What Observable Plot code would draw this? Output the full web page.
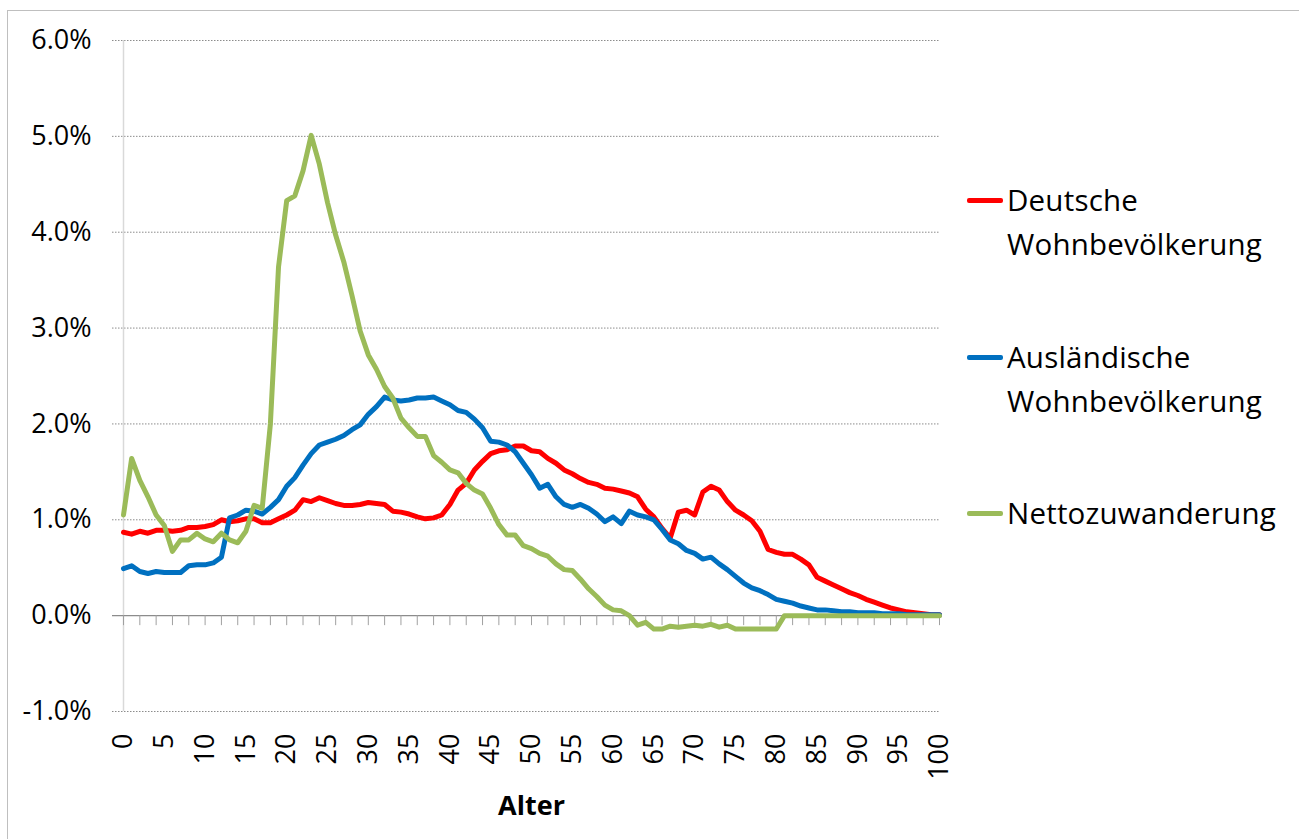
<!DOCTYPE html>
<html>
<head>
<meta charset="utf-8">
<script src="https://cdn.jsdelivr.net/npm/d3@7"></script>
<script src="https://cdn.jsdelivr.net/npm/@observablehq/plot@0.6"></script>
<style>
  html, body { margin: 0; padding: 0; background: #fff; overflow: hidden; }
  #wrap { position: relative; width: 1299px; height: 839px; overflow: hidden; font-family: "Open Sans", sans-serif; }
  #frame { position: absolute; left: 7px; top: 10px; width: 1400px; height: 900px; border: 1px solid #bfbfbf; }
  #chart { position: absolute; left: 0; top: 0; }
  .leg { position: absolute; left: 967px; font-size: 29.5px; line-height: 44px; color: #000; }
  .leg .sw { position: absolute; left: 0; width: 36px; height: 4.5px; border-radius: 2px; top: 20px; }
  .leg .tx { margin-left: 40px; white-space: nowrap; letter-spacing: 0.2px; }
</style>
</head>
<body>
<div id="wrap">
  <div id="frame"></div>
  <div id="chart"></div>
  <div id="legend"></div>
</div>
<script>
const ages = d3.range(0, 101);
const seriesNames = ["Deutsche Wohnbevölkerung", "Ausländische Wohnbevölkerung", "Nettozuwanderung"];
const seriesColors = ["#ff0000", "#0070c0", "#9bbb59"];
const legendLines = [["Deutsche", "Wohnbevölkerung"], ["Ausländische", "Wohnbevölkerung"], ["Nettozuwanderung"]];
const legendTops = [178, 335, 491];

const deutsche = [
  0.87,0.85,0.88,0.86,0.89,0.89,0.88,0.89,0.92,0.92,
  0.93,0.95,1.00,0.98,0.99,1.01,1.01,0.97,0.97,1.01,
  1.05,1.10,1.21,1.19,1.23,1.20,1.17,1.15,1.15,1.16,
  1.18,1.17,1.16,1.09,1.08,1.06,1.03,1.01,1.02,1.05,
  1.16,1.31,1.38,1.52,1.61,1.69,1.72,1.73,1.77,1.77,
  1.72,1.71,1.64,1.59,1.52,1.48,1.43,1.39,1.37,1.33,
  1.32,1.30,1.28,1.24,1.11,1.03,0.91,0.81,1.08,1.10,
  1.05,1.29,1.35,1.31,1.19,1.10,1.05,0.99,0.88,0.69,
  0.66,0.64,0.64,0.59,0.53,0.40,0.36,0.32,0.28,0.24,
  0.21,0.17,0.14,0.11,0.08,0.06,0.04,0.03,0.02,0.01,
  0.01
];
const auslaendische = [
  0.49,0.52,0.46,0.44,0.46,0.45,0.45,0.45,0.52,0.53,
  0.53,0.55,0.61,1.02,1.05,1.10,1.09,1.06,1.13,1.21,
  1.35,1.44,1.57,1.69,1.78,1.81,1.84,1.88,1.94,1.99,
  2.10,2.18,2.28,2.25,2.24,2.25,2.27,2.27,2.28,2.24,
  2.20,2.14,2.12,2.05,1.96,1.82,1.81,1.78,1.71,1.59,
  1.47,1.33,1.37,1.24,1.16,1.13,1.16,1.12,1.06,0.98,
  1.03,0.96,1.09,1.05,1.03,1.00,0.90,0.79,0.75,0.68,
  0.65,0.59,0.61,0.54,0.48,0.41,0.34,0.29,0.26,0.22,
  0.17,0.15,0.13,0.10,0.08,0.06,0.06,0.05,0.04,0.04,
  0.03,0.03,0.03,0.02,0.02,0.02,0.01,0.01,0.01,0.01,
  0.01
];
const netto = [
  1.05,1.64,1.41,1.24,1.05,0.94,0.67,0.79,0.79,0.86,
  0.80,0.77,0.86,0.79,0.76,0.88,1.15,1.12,2.00,3.64,
  4.33,4.38,4.64,5.01,4.71,4.31,3.97,3.69,3.34,2.97,
  2.72,2.57,2.39,2.27,2.06,1.96,1.87,1.87,1.67,1.60,
  1.52,1.49,1.38,1.31,1.27,1.12,0.95,0.84,0.84,0.73,
  0.70,0.65,0.62,0.54,0.48,0.47,0.38,0.28,0.20,0.11,
  0.06,0.05,0.00,-0.10,-0.07,-0.14,-0.14,-0.11,-0.12,-0.11,
  -0.10,-0.11,-0.09,-0.12,-0.10,-0.14,-0.14,-0.14,-0.14,-0.14,
  -0.14,0.00,0.00,0.00,0.00,0.00,0.00,0.00,0.00,0.00,
  0.00,0.00,0.00,0.00,0.00,0.00,0.00,0.00,0.00,0.00,
  0.00
];
const yTicks = [-1, 0, 1, 2, 3, 4, 5, 6];
const xLabelTicks = d3.range(0, 101, 5);
const xTickMarks = d3.range(0, 101, 2);
const xTitle = "Alter";

const allSeries = [deutsche, auslaendische, netto];
const rows = [];
allSeries.forEach((vals, si) => {
  ages.forEach((a, i) => rows.push({age: a, value: vals[i], series: seriesNames[si]}));
});

const chart = Plot.plot({
  width: 1299,
  height: 839,
  marginLeft: 123,
  marginRight: 360,
  marginTop: 40,
  marginBottom: 128,
  style: {fontFamily: "Open Sans", fontSize: "27px", color: "#000", background: "transparent"},
  x: {domain: [0, 100]},
  y: {domain: [-1, 6]},
  color: {domain: seriesNames, range: seriesColors},
  marks: [
    Plot.ruleY(yTicks.filter(d => d !== 0), {stroke: "#8c8c8c", strokeWidth: 1, strokeDasharray: "1.5,1.5", insetLeft: -11}),
    Plot.ruleX([0], {stroke: "#d9d9d9", strokeWidth: 1.5}),
    Plot.ruleY([0], {stroke: "#8c8c8c", strokeWidth: 1.3, insetLeft: -11}),
    Plot.ruleX(xTickMarks, {x: d => d, y1: 0, y2: 0, insetBottom: -10, stroke: "#a0a0a0", strokeWidth: 1}),
    Plot.axisY({ticks: yTicks, tickFormat: d => d.toFixed(1) + "%", tickSize: 0, tickPadding: 32, label: null, fontSize: 27}),
    Plot.axisX({ticks: xLabelTicks, tickFormat: d => String(d), tickSize: 0, tickRotate: -90, textAnchor: "end", lineAnchor: "middle", tickPadding: 22, label: null, fontSize: 27}),
    Plot.text([xTitle], {frameAnchor: "bottom", dy: 95, lineAnchor: "middle", fontWeight: "bold", fontSize: 27}),
    Plot.line(rows, {x: "age", y: "value", stroke: "series", z: "series", strokeWidth: 5, strokeLinejoin: "round", strokeLinecap: "round"})
  ]
});
document.getElementById("chart").appendChild(chart);

const leg = document.getElementById("legend");
seriesNames.forEach((name, i) => {
  const d = document.createElement("div");
  d.className = "leg";
  d.style.top = legendTops[i] + "px";
  const sw = document.createElement("div");
  sw.className = "sw";
  sw.style.background = seriesColors[i];
  d.appendChild(sw);
  legendLines[i].forEach(t => {
    const l = document.createElement("div");
    l.className = "tx";
    l.textContent = t;
    d.appendChild(l);
  });
  leg.appendChild(d);
});
</script>
</body>
</html>
